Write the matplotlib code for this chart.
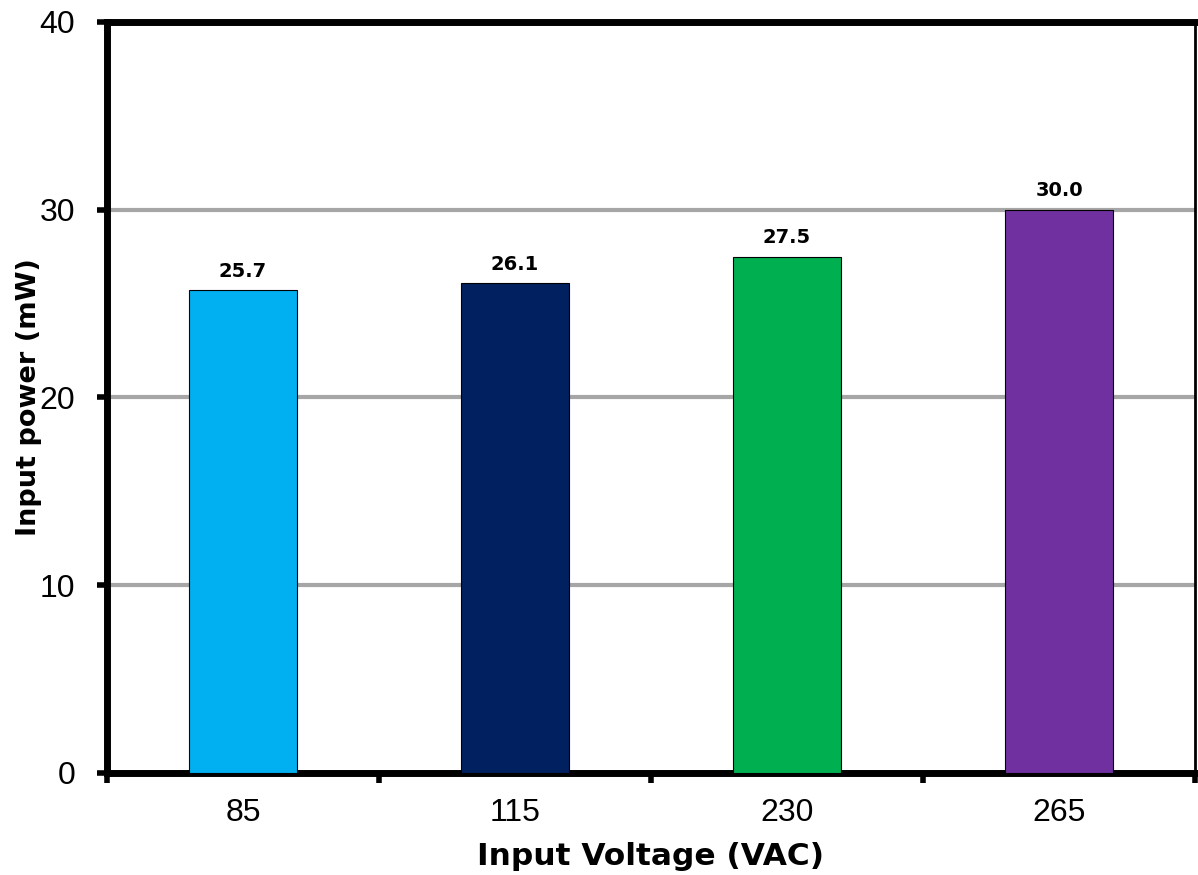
import matplotlib
matplotlib.use("Agg")
import matplotlib.pyplot as plt
import numpy as np

voltages = ["85", "115", "230", "265"]
power_mw = [25.7, 26.1, 27.5, 30.0]
bar_colors = ["#00B0F0", "#002060", "#00B050", "#7030A0"]
y_ticks = [0, 10, 20, 30, 40]

plt.rcParams["font.family"] = ["DejaVu Sans"]

fig = plt.figure(figsize=(11.98, 8.75), dpi=100)
ax = fig.add_axes([0.0893, 0.1166, 0.9082, 0.8583])

x = np.arange(len(voltages))
ax.bar(x, power_mw, width=0.4, color=bar_colors, edgecolor="black",
       linewidth=0.8, zorder=3)

for xi, val in zip(x, power_mw):
    ax.text(xi, val + 0.5, f"{val:.1f}", ha="center", va="bottom",
            fontsize=14, fontweight="bold", zorder=4)

ax.set_xlim(-0.5, len(voltages) - 0.5)
ax.set_ylim(0, 40)
ax.set_yticks(y_ticks)
ax.yaxis.grid(True, color="#A6A6A6", linewidth=3, zorder=1)
ax.set_axisbelow(True)

# category labels centered, ticks at boundaries
ax.set_xticks(x)
ax.set_xticklabels(voltages, fontfamily="Liberation Sans", fontsize=23)
ax.set_xticks(np.arange(len(voltages) + 1) - 0.5, minor=True)
ax.tick_params(axis="x", which="major", length=0, pad=18)
ax.tick_params(axis="x", which="minor", length=7, width=4, direction="out")
ax.tick_params(axis="y", length=7, width=4, direction="out", pad=16,
               labelsize=23)
for lab in ax.get_yticklabels():
    lab.set_fontfamily("Liberation Sans")

for side in ["left", "bottom", "top"]:
    ax.spines[side].set_linewidth(5)
ax.spines["right"].set_linewidth(2)

ax.set_xlabel("Input Voltage (VAC)", fontsize=22.5, fontweight="bold",
              labelpad=10)
ax.set_ylabel("Input power (mW)", fontsize=19.5, fontweight="bold",
              labelpad=-2)

fig.savefig("out.png", dpi=100)
